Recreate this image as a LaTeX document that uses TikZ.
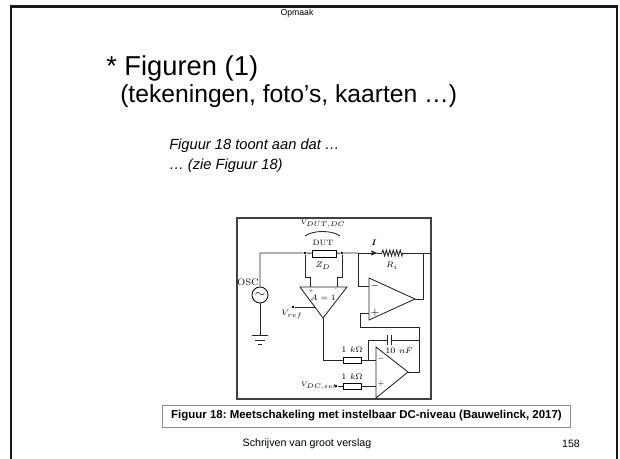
\documentclass[tikz,border=0pt]{standalone}
\usepackage{amsmath}
\usepackage{amssymb}
\usepackage{fontspec}
\newfontfamily\arial{Liberation Sans}
\usetikzlibrary{arrows,decorations.pathmorphing}
\frenchspacing

\begin{document}
\begin{tikzpicture}[x=0.75pt,y=-0.75pt,>=stealth',
    wire/.style={line width=0.65pt, black!85},
    lbl/.style={font=\fontsize{6.3}{7}\selectfont, inner sep=0pt},
    res/.style={draw, line width=0.65pt, minimum width=14pt, minimum height=4.5pt, inner sep=0pt},
    dot/.style={circle, fill, inner sep=0pt, minimum size=2.2pt},
    slide/.style={font=\arial\fontsize{#1}{#1}\selectfont, inner sep=0pt}]
        \useasboundingbox (0,0) rectangle (620,459);
        % slide
        \draw[line width=1.6pt, black!90] (11,459) -- (11,6.5) -- (617,6.5) -- (617,459);
        \node[slide=6.5] (hdr) at (297,13) {Opmaak};
        \node[slide=20.5, anchor=west] (t1) at (106,68) {* Figuren (1)};
        \node[slide=18.5, anchor=west] (t2) at (120,96) {(tekeningen, foto’s, kaarten …)};
        \node[anchor=west, inner sep=0pt, font=\arial\itshape\fontsize{11}{11}\selectfont] (i1) at (169,146) {Figuur 18 toont aan dat …};
        \node[anchor=west, inner sep=0pt, font=\arial\itshape\fontsize{11}{11}\selectfont] (i2) at (169,166) {… (zie Figuur 18)};
        \node[inner sep=0pt, font=\arial\bfseries\fontsize{8.6}{9}\selectfont, draw=black!45, line width=0.6pt,
              minimum width=306.5pt, minimum height=16.5pt] (cap) at (366.5,416) {Figuur 18: Meetschakeling met instelbaar DC-niveau (Bauwelinck, 2017)};
        \node[slide=8] (ftr) at (307,444) {Schrijven van groot verslag};
        \node[slide=8] (pg) at (571,444) {158};

        % circuit
        \draw[line width=1.3pt, black!75] (237,218) rectangle (431,399);
        \node[res, minimum width=18pt, minimum height=5.25pt] (dut) at (324,253.5) {};
        \node[res] (r1) at (352.5,360) {};
        \node[res] (r2) at (352.5,386) {};
        \node[dot] (jl) at (305,253) {};
        \node[dot] (jr) at (342,253) {};
        \node[dot] (vref) at (293,307) {};
        \node[dot] (vdc) at (336,386) {};
        \node[circle, draw, line width=0.65pt, minimum size=12pt, inner sep=0pt] (osc) at (260,295) {$\sim$};
        \coordinate (tj) at (358,253);
        \coordinate (ia) at (377,253);
        \coordinate (ri) at (382,253);
        \coordinate (ro) at (403,253);
        \coordinate (to) at (423,253);
        \coordinate (tend) at (430,253);
        \coordinate (gnd) at (260,335);
        \coordinate (bl) at (300,287);
        \coordinate (br) at (347,287);
        \coordinate (bo) at (323,318);
        \coordinate (a1t) at (369,278);
        \coordinate (a1b) at (369,320);
        \coordinate (a1o) at (415,299);
        \coordinate (a1m) at (369,286);
        \coordinate (a1p) at (369,313);
        \coordinate (fb) at (419,327);
        \coordinate (a2t) at (376,347);
        \coordinate (a2b) at (376,398);
        \coordinate (a2o) at (408,372);
        \coordinate (a2m) at (376,360);
        \coordinate (a2p) at (376,386);
        \coordinate (cj) at (368,360);
        \coordinate (c1) at (387,340);
        \coordinate (c2) at (391,340);
        \coordinate (cr) at (419,340);

        \draw[wire] (osc.north) |- (jl) -- (dut) -- (jr) -- (tj);
        \draw[wire,->] (tj) -- (ia);
        \draw[wire] (ia) -- (ri);
        \draw[wire, decorate, decoration={zigzag, segment length=2.6pt, amplitude=2.2pt}] (ri) -- (ro);
        \draw[wire] (ro) -- (tend);
        \draw[wire] (osc.south) -- (gnd);
        \draw[wire] (gnd) ++(-8,0) -- ++(16,0);
        \draw[wire] (gnd) ++(-5,5) -- ++(10,0);
        \draw[wire] (gnd) ++(-2,9) -- ++(4,0);
        \draw[wire] (305,236) .. controls (313,230) and (332,230) .. (340,236);

        % buffer
        \draw[wire] (bl) -- (br) -- (bo) -- cycle;
        \draw[wire] (jl) -- ++(0,24) -- ++(5,0) -- ++(0,10);
        \draw[wire] (jr) -- ++(0,24) -- ++(-5,0) -- ++(0,10);
        \draw[wire] (vref) -- (315,307);

        % op amps
        \draw[wire] (a1t) -- (a1o) -- (a1b) -- cycle;
        \draw[wire] (tj) |- (a1m);
        \draw[wire] (a1o) -| (to);
        \draw[wire] (a1p) -- ++(-9,0) |- (fb) |- (a2o);
        \draw[wire] (a2t) -- (a2o) -- (a2b) -- cycle;
        \draw[wire] (bo) |- (r1);
        \draw[wire] (r1) -- (a2m);
        \draw[wire] (cj) |- (c1);
        \draw[wire] (c1) ++(0,-5) -- ++(0,10);
        \draw[wire] (c2) ++(0,-5) -- ++(0,10);
        \draw[wire] (c2) -- (cr);
        \draw[wire] (vdc) -- (r2) -- (a2p);

        % labels
        \node[lbl, font=\fontsize{5.5}{6}\selectfont] at (323,224) {$V_{DUT,DC}$};
        \node[lbl, font=\fontsize{5.8}{6}\selectfont] at (323,243) {DUT};
        \node[lbl] at (323,266) {$Z_D$};
        \node[lbl] at (374,243) {$\boldsymbol{I}$};
        \node[lbl] at (392,266) {$R_i$};
        \node[lbl, font=\fontsize{7}{7}\selectfont] at (248,282) {OSC};
        \node[lbl] at (323,298) {$A=1$};
        \node[lbl, font=\fontsize{4}{4}\selectfont] at (311,291) {+};
        \node[lbl, font=\fontsize{4}{4}\selectfont] at (336,291) {'};
        \node[lbl] at (292,314) {$V_{ref}$};
        \node[lbl, font=\fontsize{8}{8}\selectfont] at (375,286) {$-$};
        \node[lbl, font=\fontsize{8}{8}\selectfont] at (375,313) {$+$};
        \node[lbl, font=\fontsize{4.5}{5}\selectfont] at (381,359) {$-$};
        \node[lbl, font=\fontsize{4.5}{5}\selectfont] at (381,384) {$+$};
        \node[lbl] at (352,350) {1 $k\Omega$};
        \node[lbl] at (352,377) {1 $k\Omega$};
        \node[lbl] at (399,351) {10 $nF$};
        \node[lbl, font=\fontsize{5.2}{6}\selectfont] at (319,386) {$V_{DC,set}$};
      \end{tikzpicture}
\end{document}
